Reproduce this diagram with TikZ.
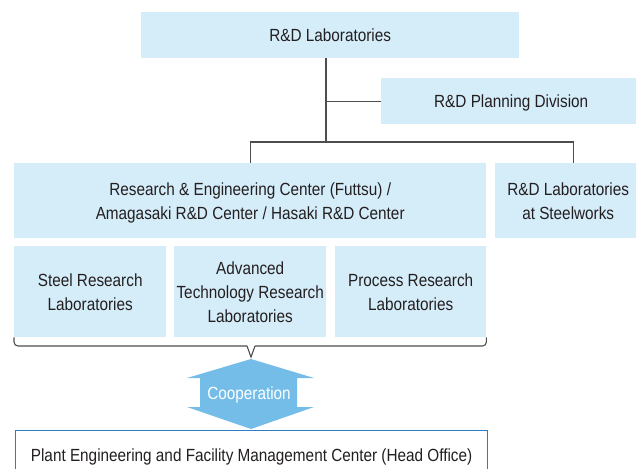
\documentclass[tikz,border=0pt]{standalone}
\usepackage{fontspec}
\setmainfont{Liberation Sans}[FakeStretch=0.87]
\definecolor{boxblue}{HTML}{D5ECF9}
\definecolor{arrowblue}{HTML}{74BDE9}
\definecolor{linegray}{HTML}{4D4D4D}
\definecolor{txt}{HTML}{231F20}
\definecolor{frameblue}{HTML}{2B7CC0}
\begin{document}
\begin{tikzpicture}[x=1pt,y=-1pt,
  box/.style={fill=boxblue, inner sep=0pt, align=center, text=txt, text depth=0pt,
    font=\fontsize{17.6}{24}\selectfont, anchor=north west},
  conn/.style={draw=linegray, line width=1.1pt}]
\useasboundingbox (0,0) rectangle (636,468);
\node[box, minimum width=378pt, minimum height=46pt] (lab) at (141,12) {R\&D Laboratories};
\node[box, minimum width=260pt, minimum height=46pt] (plan) at (381,78) {R\&D Planning Division};
\node[box, minimum width=472pt, minimum height=75pt] (rec) at (14,163)
  {Research \& Engineering Center (Futtsu) /\\Amagasaki R\&D Center / Hasaki R\&D Center};
\node[box, minimum width=146pt, minimum height=75pt] (steel) at (495,163)
  {R\&D Laboratories\\at Steelworks};
\node[box, minimum width=152pt, minimum height=91pt] (s1) at (14,246)
  {Steel Research\\Laboratories};
\node[box, minimum width=152pt, minimum height=91pt] (s2) at (174,246)
  {Advanced\\Technology Research\\Laboratories};
\node[box, minimum width=151pt, minimum height=91pt] (s3) at (335,246)
  {Process Research\\Laboratories};
% connectors
\coordinate (top) at (326,58);
\coordinate (j1) at (326,142);
\draw[conn] (top) -- (j1);
\draw[conn] (top |- plan.west) -- (plan.west);
\draw[conn] (rec.north) |- (j1) -| ([xshift=5pt]steel.north);
% brace
\coordinate (tipL) at (247,346);
\coordinate (tip) at (251,357);
\coordinate (tipR) at (255,346);
\draw[conn, rounded corners=4pt] (s1.south west) |- (tipL);
\draw[conn, line join=miter] (tipL) -- (tip) -- (tipR);
\draw[conn, rounded corners=4pt] (tipR) -| (s3.south east);
% cooperation arrow
\fill[arrowblue] (251,359) -- (314,378) -- (297,378) -- (297,407) -- (314,407)
  -- (251,429) -- (187,407) -- (200,407) -- (200,378) -- (187,378) -- cycle;
\node[text=white, font=\fontsize{17.6}{24}\selectfont, inner sep=0pt, text depth=0pt] (coop) at (249,393) {Cooperation};
% bottom box
\node[box, fill=white, draw=frameblue, line width=1.2pt, minimum width=472pt, minimum height=50pt] (pe) at (15,430)
  {Plant Engineering and Facility Management Center (Head Office)};
\end{tikzpicture}
\end{document}
